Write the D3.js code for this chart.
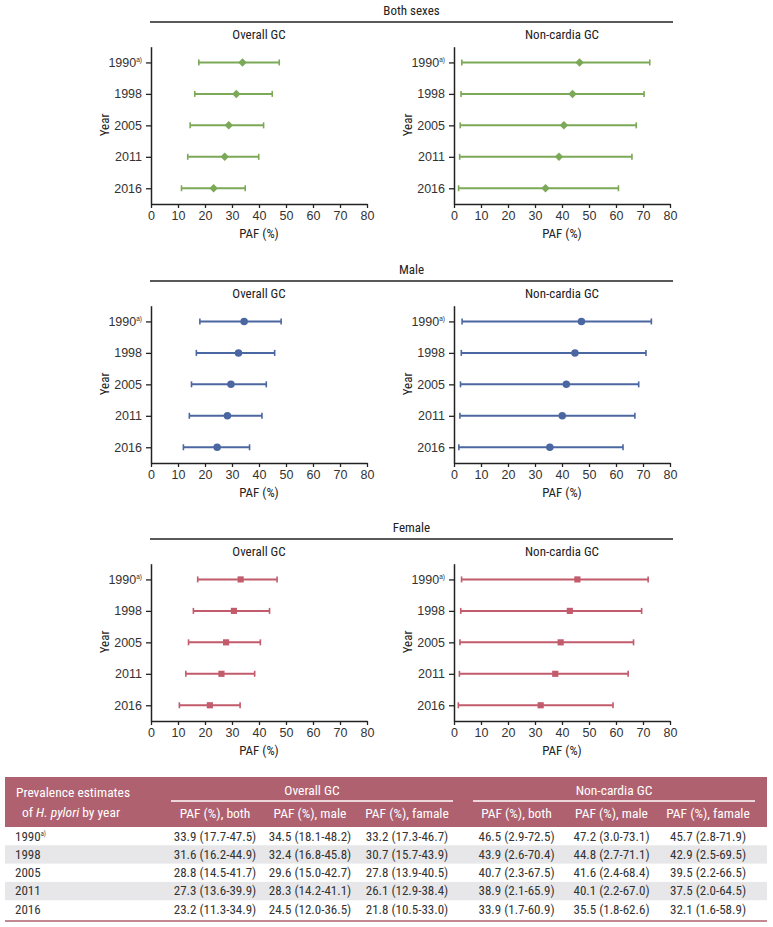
<!DOCTYPE html>
<html>
<head>
<meta charset="utf-8">
<script src="https://cdn.jsdelivr.net/npm/d3@7"></script>
<style>
  html, body { margin: 0; padding: 0; background: #fff; }
  svg { display: block; font-family: "Liberation Sans Narrow", "Roboto Condensed", "DejaVu Sans Condensed", sans-serif; }
</style>
</head>
<body>
<svg id="chart" width="773" height="927"></svg>
<script>
// ---------------- DATA ----------------
const years = ["1990", "1998", "2005", "2011", "2016"];
const xTicks = [0, 10, 20, 30, 40, 50, 60, 70, 80];
const groups = ["Both sexes", "Male", "Female"];
const outcomes = ["Overall GC", "Non-cardia GC"];

// Overall GC
const overallBothEst = [33.9, 31.6, 28.8, 27.3, 23.2];
const overallBothLo  = [17.7, 16.2, 14.5, 13.6, 11.3];
const overallBothHi  = [47.5, 44.9, 41.7, 39.9, 34.9];
const overallMaleEst = [34.5, 32.4, 29.6, 28.3, 24.5];
const overallMaleLo  = [18.1, 16.8, 15.0, 14.2, 12.0];
const overallMaleHi  = [48.2, 45.8, 42.7, 41.1, 36.5];
const overallFemEst  = [33.2, 30.7, 27.8, 26.1, 21.8];
const overallFemLo   = [17.3, 15.7, 13.9, 12.9, 10.5];
const overallFemHi   = [46.7, 43.9, 40.5, 38.4, 33.0];
// Non-cardia GC
const ncBothEst = [46.5, 43.9, 40.7, 38.9, 33.9];
const ncBothLo  = [2.9, 2.6, 2.3, 2.1, 1.7];
const ncBothHi  = [72.5, 70.4, 67.5, 65.9, 60.9];
const ncMaleEst = [47.2, 44.8, 41.6, 40.1, 35.5];
const ncMaleLo  = [3.0, 2.7, 2.4, 2.2, 1.8];
const ncMaleHi  = [73.1, 71.1, 68.4, 67.0, 62.6];
const ncFemEst  = [45.7, 42.9, 39.5, 37.5, 32.1];
const ncFemLo   = [2.8, 2.5, 2.2, 2.0, 1.6];
const ncFemHi   = [71.9, 69.5, 66.5, 64.5, 58.9];

const colHeaders = ["PAF (%), both", "PAF (%), male", "PAF (%), famale"];

// ---------------- LAYOUT ----------------
const svg = d3.select("#chart");
const colors = ["#7ba957", "#4b67a1", "#c25b6b"];
const shapes = [d3.symbolSquare, d3.symbolCircle, d3.symbolSquare];
const shapeRot = [45, 0, 0];
const shapeSizes = [36, 44, 38];
const panelTops = [0, 259, 517];
const plotX = [[151, 367], [454, 670]];
const axisColor = "#222";
const textColor = "#333";

const series = [
  [[overallBothEst, overallBothLo, overallBothHi], [ncBothEst, ncBothLo, ncBothHi]],
  [[overallMaleEst, overallMaleLo, overallMaleHi], [ncMaleEst, ncMaleLo, ncMaleHi]],
  [[overallFemEst, overallFemLo, overallFemHi], [ncFemEst, ncFemLo, ncFemHi]]
];

function yearLabel(sel, yr, i) {
  sel.text(yr);
  if (i === 0) {
    sel.append("tspan").attr("font-size", 6.5).attr("dy", -5).text("a)");
  }
}

groups.forEach((g, gi) => {
  const top = panelTops[gi];
  const pg = svg.append("g").attr("transform", `translate(0,${top})`);
  pg.append("text").attr("x", 411.5).attr("y", 14.5).attr("text-anchor", "middle")
    .attr("font-size", 13).attr("fill", "#222").text(g);
  pg.append("line").attr("x1", 150).attr("x2", 673).attr("y1", 22).attr("y2", 22)
    .attr("stroke", axisColor).attr("stroke-width", 1.5);

  outcomes.forEach((o, oi) => {
    const [x0, x1] = plotX[oi];
    const x = d3.scaleLinear().domain([0, 80]).range([x0, x1]);
    const y = d3.scalePoint().domain(years).range([46.7, 204]).padding(0.5);
    const cg = pg.append("g");

    cg.append("text").attr("x", (x0 + x1) / 2).attr("y", 39).attr("text-anchor", "middle")
      .attr("font-size", 13).attr("fill", "#222").text(o);

    // x axis
    const xa = cg.append("g").attr("transform", `translate(0,204)`)
      .call(d3.axisBottom(x).tickValues(xTicks).tickSize(4).tickSizeOuter(0).tickPadding(3));
    xa.select(".domain").attr("stroke", axisColor).attr("stroke-width", 1.5);
    xa.selectAll(".tick line").attr("stroke", axisColor).attr("stroke-width", 1.3);
    xa.selectAll(".tick text").attr("font-size", 12.5).attr("fill", textColor)
      .attr("font-family", null);

    // y axis
    const ya = cg.append("g").attr("transform", `translate(${x0},0)`)
      .call(d3.axisLeft(y).tickSize(5).tickSizeOuter(0).tickPadding(4));
    ya.select(".domain").attr("stroke", axisColor).attr("stroke-width", 1.5);
    ya.selectAll(".tick line").attr("stroke", axisColor).attr("stroke-width", 1.3);
    ya.selectAll(".tick text").attr("font-size", 12.5).attr("fill", textColor)
      .attr("font-family", null)
      .each(function (d, i) { yearLabel(d3.select(this), d, i); });

    // axis titles
    cg.append("text").attr("transform", `translate(${x0 - 42},${125}) rotate(-90)`)
      .attr("text-anchor", "middle").attr("font-size", 13).attr("fill", "#222").text("Year");
    cg.append("text").attr("x", (x0 + x1) / 2).attr("y", 238).attr("text-anchor", "middle")
      .attr("font-size", 13).attr("fill", "#222").text("PAF (%)");

    // error bars
    const [est, lo, hi] = series[gi][oi];
    const col = colors[gi];
    const rows = years.map((yr, i) => ({ yr, est: est[i], lo: lo[i], hi: hi[i] }));
    const eb = cg.append("g");
    eb.selectAll("line.bar").data(rows).join("line").attr("class", "bar")
      .attr("x1", d => x(d.lo)).attr("x2", d => x(d.hi))
      .attr("y1", d => y(d.yr)).attr("y2", d => y(d.yr))
      .attr("stroke", col).attr("stroke-width", 2);
    eb.selectAll("line.capl").data(rows).join("line").attr("class", "capl")
      .attr("x1", d => x(d.lo)).attr("x2", d => x(d.lo))
      .attr("y1", d => y(d.yr) - 3).attr("y2", d => y(d.yr) + 3)
      .attr("stroke", col).attr("stroke-width", 1.6);
    eb.selectAll("line.caph").data(rows).join("line").attr("class", "caph")
      .attr("x1", d => x(d.hi)).attr("x2", d => x(d.hi))
      .attr("y1", d => y(d.yr) - 3).attr("y2", d => y(d.yr) + 3)
      .attr("stroke", col).attr("stroke-width", 1.6);
    eb.selectAll("path.pt").data(rows).join("path").attr("class", "pt")
      .attr("transform", d => `translate(${x(d.est)},${y(d.yr)}) rotate(${shapeRot[gi]})`)
      .attr("d", d3.symbol().type(shapes[gi]).size(shapeSizes[gi]))
      .attr("fill", col);
  });
});

// ---------------- TABLE ----------------
const headColor = "#b0616f";
const tg = svg.append("g");
const tLeft = 5, tRight = 767, tTop = 777, headBottom = 827, rowH = 18.3;
tg.append("rect").attr("x", tLeft).attr("y", tTop).attr("width", tRight - tLeft)
  .attr("height", headBottom - tTop).attr("fill", headColor);

const white = "#fff";
tg.append("text").attr("x", 73).attr("y", 797).attr("text-anchor", "middle")
  .attr("font-size", 13.5).attr("fill", white).text("Prevalence estimates");
const t2 = tg.append("text").attr("x", 71).attr("y", 817).attr("text-anchor", "middle")
  .attr("font-size", 13.5).attr("fill", white);
t2.append("tspan").text("of ");
t2.append("tspan").attr("font-style", "italic").text("H. pylori");
t2.append("tspan").text(" by year");

const groupCols = [[215, 310, 407], [516.5, 611.5, 708]];
const underline = [[171, 453], [473, 755]];
outcomes.forEach((o, oi) => {
  tg.append("text").attr("x", (underline[oi][0] + underline[oi][1]) / 2).attr("y", 795)
    .attr("text-anchor", "middle").attr("font-size", 13.5).attr("fill", white).text(o);
  tg.append("line").attr("x1", underline[oi][0]).attr("x2", underline[oi][1])
    .attr("y1", 801).attr("y2", 801).attr("stroke", white).attr("stroke-width", 1.3);
  colHeaders.forEach((h, hi) => {
    tg.append("text").attr("x", groupCols[oi][hi]).attr("y", 818)
      .attr("text-anchor", "middle").attr("font-size", 13.5).attr("fill", white).text(h);
  });
});

const fmt = d3.format(".1f");
years.forEach((yr, i) => {
  const ry = headBottom + i * rowH;
  if (i % 2 === 1) {
    tg.append("rect").attr("x", tLeft).attr("y", ry).attr("width", tRight - tLeft)
      .attr("height", rowH).attr("fill", "#e7e7e9");
  }
  const yt = tg.append("text").attr("x", 15).attr("y", ry + 13.5)
    .attr("font-size", 13).attr("fill", textColor);
  yearLabel(yt, yr, i);
  for (let oi = 0; oi < 2; oi++) {
    for (let gi = 0; gi < 3; gi++) {
      const [est, lo, hi] = series[gi][oi];
      tg.append("text").attr("x", groupCols[oi][gi]).attr("y", ry + 13.5)
        .attr("text-anchor", "middle").attr("font-size", 13).attr("fill", textColor)
        .text(`${fmt(est[i])} (${fmt(lo[i])}-${fmt(hi[i])})`);
    }
  }
});
const tb = headBottom + years.length * rowH;
tg.append("line").attr("x1", tLeft).attr("x2", tRight).attr("y1", tb + 2.5).attr("y2", tb + 2.5)
  .attr("stroke", headColor).attr("stroke-width", 1.6);
</script>
</body>
</html>
